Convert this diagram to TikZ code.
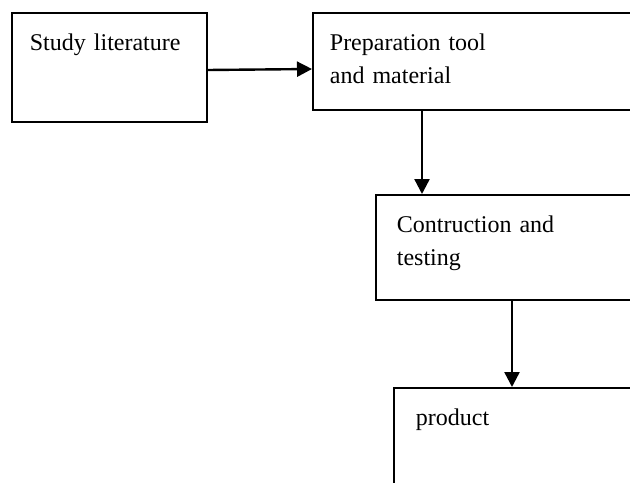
\documentclass[tikz,border=0pt]{standalone}
\usepackage{fontspec}
\setmainfont{Liberation Serif}
\usetikzlibrary{arrows.meta,calc}

\begin{document}
\begin{tikzpicture}[x=0.5pt,y=-0.5pt,
	box/.style={draw,line width=0.9pt,anchor=north west,align=left,inner ysep=0pt,
		text height=19pt,font=\fontsize{12}{16.5}\selectfont},
	link/.style={line width=1.2pt,-{Triangle[length=7.5pt,width=7.5pt]}}]
	\clip (0,0) rectangle (630,482);

	\node[box,inner xsep=9pt,text width=79.5pt,text depth=35.5pt] (lit) at (11,12) {Study literature};
	\node[box,inner xsep=8.5pt,text width=147pt,text depth=29.5pt] (prep) at (312,12) {Preparation tool\\and material};
	\node[box,inner xsep=10.5pt,text width=111.5pt,text depth=33.5pt] (test) at (375,194) {Contruction and\\testing};
	\node[box,inner xsep=11pt,text width=101.5pt,text depth=50pt] (prod) at (393,387) {product};

	% arrows
	\draw[link] ($(lit.north east)+(0,58)$) -- ($(prep.north west)+(0,57)$);
	\coordinate (p1) at ($(prep.south west)+(110,0)$);
	\draw[link] (p1) -- (p1 |- test.north);
	\coordinate (p2) at ($(test.south west)+(137,0)$);
	\draw[link] (p2) -- (p2 |- prod.north);
\end{tikzpicture}
\end{document}
